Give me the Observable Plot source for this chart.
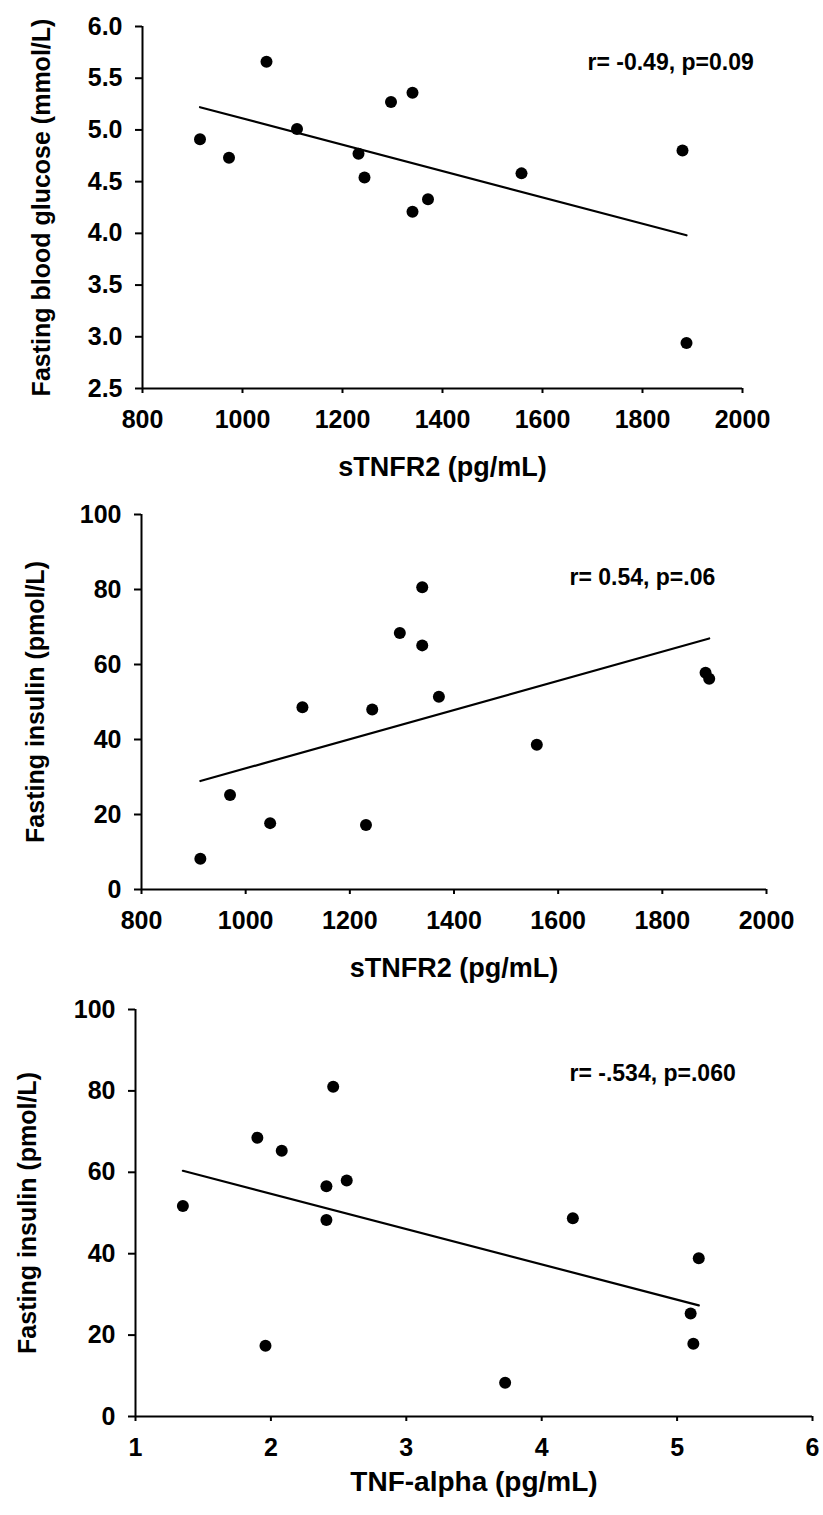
<!DOCTYPE html>
<html><head><meta charset="utf-8">
<script src="https://cdn.jsdelivr.net/npm/d3@7"></script>
<script src="https://cdn.jsdelivr.net/npm/@observablehq/plot@0.6"></script>
<style>
body{margin:0;background:#fff;}
#chart{width:823px;}
#chart svg{display:block;}
</style></head><body><div id="chart"></div>
<script>
// Panel A: sTNFR2 vs fasting blood glucose
const sTNFR2_A = [915, 973, 1048, 1109, 1232, 1244, 1297, 1340, 1340, 1371, 1558, 1880, 1888];
const glucose   = [4.91, 4.73, 5.66, 5.01, 4.77, 4.54, 5.27, 5.36, 4.21, 4.33, 4.58, 4.80, 2.94];
// Panel B: sTNFR2 vs fasting insulin
const sTNFR2_B = [913, 970, 1047, 1109, 1231, 1243, 1296, 1339, 1339, 1371, 1559, 1883, 1890];
const insulinB  = [8.2, 25.2, 17.7, 48.6, 17.2, 48.0, 68.4, 80.6, 65.1, 51.4, 38.6, 57.8, 56.2];
// Panel C: TNF-alpha vs fasting insulin
const tnfAlpha  = [1.35, 1.90, 1.96, 2.08, 2.41, 2.41, 2.46, 2.56, 3.73, 4.23, 5.10, 5.12, 5.16];
const insulinC  = [51.7, 68.5, 17.4, 65.3, 48.3, 56.6, 81.0, 58.0, 8.3, 48.7, 25.3, 17.9, 38.9];

const xTicksSTNFR2 = [800, 1000, 1200, 1400, 1600, 1800, 2000];
const xTicksTNF = [1, 2, 3, 4, 5, 6];
const yTicksGlucose = [2.5, 3.0, 3.5, 4.0, 4.5, 5.0, 5.5, 6.0];
const yTicksInsulin = [0, 20, 40, 60, 80, 100];

const xLabels = ["sTNFR2 (pg/mL)", "sTNFR2 (pg/mL)", "TNF-alpha (pg/mL)"];
const yLabels = ["Fasting blood glucose (mmol/L)", "Fasting insulin (pmol/L)", "Fasting insulin (pmol/L)"];
const notes = ["r= -0.49, p=0.09", "r= 0.54, p=.06", "r= -.534, p=.060"];

const FONT = "'Liberation Sans', Arial, Helvetica, sans-serif";

function panel(o) {
  const data = o.xs.map((x, i) => ({x, y: o.ys[i]}));
  return Plot.plot({
    width: 823, height: o.height,
    marginTop: o.mt, marginRight: o.mr, marginBottom: o.mb, marginLeft: o.ml,
    style: {fontFamily: FONT, background: "white", color: "black", overflow: "visible"},
    x: {domain: o.xDomain, inset: 0},
    y: {domain: o.yDomain, inset: 0},
    marks: [
      Plot.axisY(o.yTicks, {tickFormat: o.yFormat, tickSize: 7, tickPadding: 13, fontSize: 25, fontWeight: "bold", label: null, strokeWidth: 2}),
      Plot.axisX(o.xTicks, {tickFormat: d => String(d), tickSize: 5, tickPadding: 17, fontSize: 25, fontWeight: "bold", label: null, strokeWidth: 2}),
      Plot.ruleX([o.xDomain[0]], {stroke: "black", strokeWidth: 2}),
      Plot.ruleY([o.yDomain[0]], {stroke: "black", strokeWidth: 2}),
      Plot.linearRegressionY(data, {x: "x", y: "y", ci: 0, stroke: "black", strokeWidth: 2.2}),
      Plot.dot(data, {x: "x", y: "y", r: 6, fill: "black", stroke: "none"}),
      Plot.text([o.note], {text: d => d, frameAnchor: "top-left", textAnchor: "start", lineAnchor: "middle", dx: o.noteDx, dy: o.noteDy, fontSize: 23, fontWeight: "bold"}),
      Plot.text([o.xLabel], {text: d => d, frameAnchor: "bottom", textAnchor: "middle", lineAnchor: "middle", dy: o.xLabelDy, fontSize: o.xLabelSize, fontWeight: "bold"}),
      Plot.text([o.yLabel], {text: d => d, frameAnchor: "left", textAnchor: "middle", rotate: -90, lineAnchor: "middle", dx: o.yLabelDx, fontSize: 25, fontWeight: "bold"})
    ]
  });
}

const chart = document.getElementById("chart");
chart.append(panel({
  xs: sTNFR2_A, ys: glucose, xDomain: [800, 2000], yDomain: [2.5, 6.0],
  xTicks: xTicksSTNFR2, yTicks: yTicksGlucose, yFormat: d => d.toFixed(1),
  xLabel: xLabels[0], yLabel: yLabels[0], note: notes[0],
  height: 480, mt: 26, mr: 81, mb: 92, ml: 142,
  yLabelDx: -101, xLabelDy: 79, xLabelSize: 27, noteDx: 445, noteDy: 36
}));
chart.append(panel({
  xs: sTNFR2_B, ys: insulinB, xDomain: [800, 2000], yDomain: [0, 100],
  xTicks: xTicksSTNFR2, yTicks: yTicksInsulin, yFormat: d => String(d),
  xLabel: xLabels[1], yLabel: yLabels[1], note: notes[1],
  height: 505, mt: 34, mr: 57, mb: 96, ml: 141,
  yLabelDx: -106, xLabelDy: 79, xLabelSize: 27, noteDx: 428, noteDy: 63
}));
chart.append(panel({
  xs: tnfAlpha, ys: insulinC, xDomain: [1, 6], yDomain: [0, 100],
  xTicks: xTicksTNF, yTicks: yTicksInsulin, yFormat: d => String(d),
  xLabel: xLabels[2], yLabel: yLabels[2], note: notes[2],
  height: 530, mt: 24, mr: 11, mb: 99, ml: 135,
  yLabelDx: -108, xLabelDy: 66, xLabelSize: 28, noteDx: 434, noteDy: 64
}));
</script>
</body></html>
